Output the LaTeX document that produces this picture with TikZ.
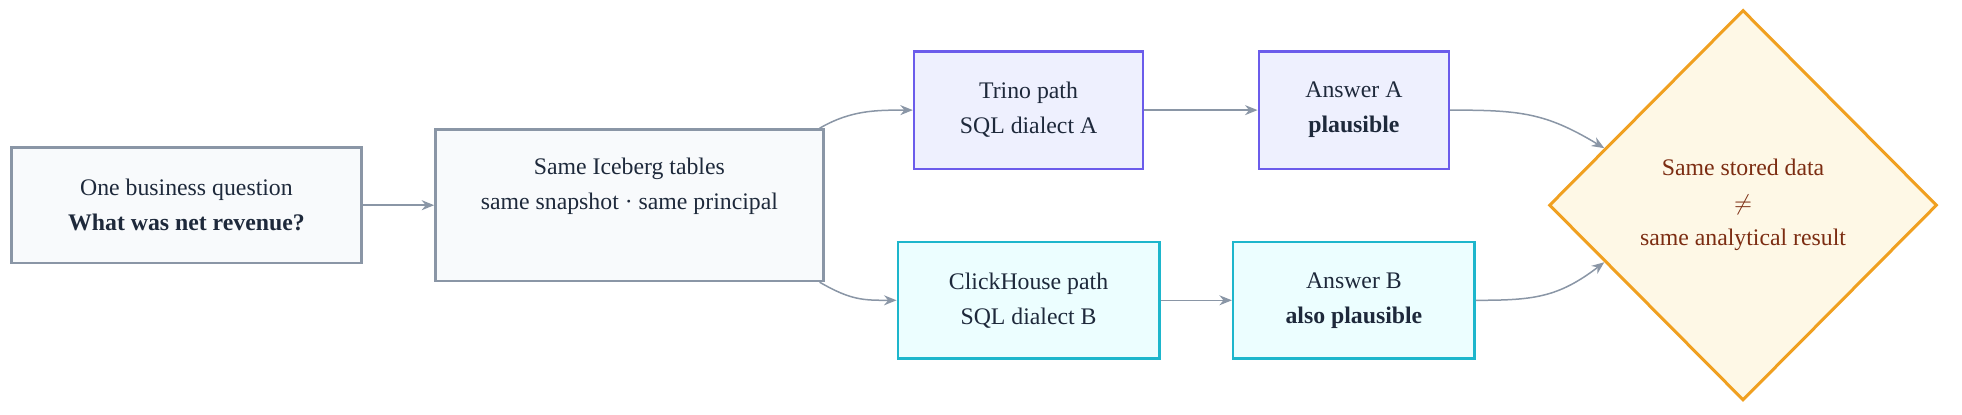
\documentclass[tikz,border=0pt]{standalone}
\usepackage{fontspec}
\setmainfont{Liberation Serif}
\newfontfamily\serifx{Liberation Serif}
\usetikzlibrary{shapes.geometric,calc,arrows.meta}
\definecolor{slateS}{HTML}{8A96A6}
\definecolor{slateF}{HTML}{F8FAFC}
\definecolor{purS}{HTML}{6B5CEB}
\definecolor{purF}{HTML}{EEF0FE}
\definecolor{cyS}{HTML}{1DB6CC}
\definecolor{cyF}{HTML}{ECFEFF}
\definecolor{orS}{HTML}{F0A020}
\definecolor{orF}{HTML}{FEF8E6}
\definecolor{txt}{HTML}{1E293B}
\definecolor{brn}{HTML}{7C2D12}
\begin{document}
\begin{tikzpicture}[x=0.5pt,y=-0.5pt,
  fnt/.style={font=\serifx\fontsize{9.5}{14}\selectfont},
  box/.style={draw,line width=1pt,align=center,inner sep=0pt,text=txt,fnt},
  gbox/.style={box,draw=slateS,fill=slateF},
  pbox/.style={box,draw=purS,fill=purF},
  cbox/.style={box,draw=cyS,fill=cyF},
  arr/.style={draw=slateS,line width=0.6pt,-{Stealth[length=5pt,width=4pt]}}]
\useasboundingbox (0,0) rectangle (1568,331);
\node[gbox,minimum width=140pt,minimum height=46pt] (q) at (149,164) {One business question\\\textbf{What was net revenue?}};
\node[gbox,minimum width=155pt,minimum height=60.5pt] (ice) at (503,164) {};
\node[align=center,text=txt,fnt] (icet) at (503,149) {Same Iceberg tables\\same snapshot · same principal};
\node[pbox,minimum width=91.5pt,minimum height=47pt] (tr) at (822,88) {Trino path\\SQL dialect A};
\node[pbox,minimum width=76pt,minimum height=47pt] (aa) at (1082,88) {Answer A\\\textbf{plausible}};
\node[cbox,minimum width=104.5pt,minimum height=46.5pt] (ch) at (822,240) {ClickHouse path\\SQL dialect B};
\node[cbox,minimum width=96.5pt,minimum height=46.5pt] (ab) at (1082,240) {Answer B\\\textbf{also plausible}};
\node[diamond,draw=orS,fill=orF,line width=1.2pt,minimum width=155pt,minimum height=156pt,inner sep=0pt,align=center,text=brn,fnt] (dia) at (1393,164) {Same stored data\\$\neq$\\same analytical result};
\draw[arr] (q.east) -- (ice.west);
\draw[arr] ($(ice.north east)+(-4,0)$) .. controls (680,88) and (700,88) .. (tr.west);
\draw[arr] ($(ice.south east)+(-4,0)$) .. controls (680,240) and (690,240) .. (ch.west);
\draw[arr] (tr.east) -- (aa.west);
\draw[arr] (ch.east) -- (ab.west);
\draw[arr] (aa.east) .. controls (1215,88) and (1235,90) .. ($(dia.west)!0.29!(dia.north)$);
\draw[arr] (ab.east) .. controls (1225,240) and (1245,238) .. ($(dia.west)!0.29!(dia.south)$);
\end{tikzpicture}
\end{document}
